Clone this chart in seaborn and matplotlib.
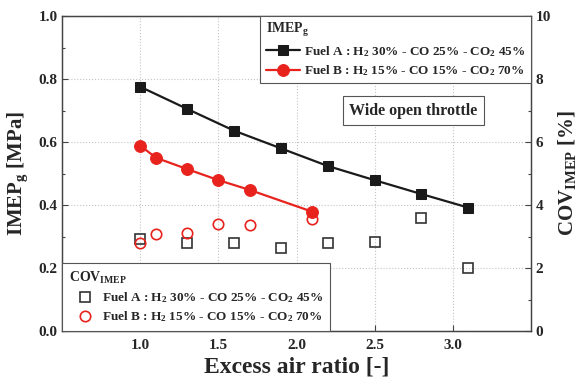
import matplotlib
matplotlib.use("Agg")
import matplotlib.pyplot as plt
import seaborn as sns
import pandas as pd
from matplotlib.ticker import MultipleLocator

# ---- data ----
lam_a = [1.0, 1.3, 1.6, 1.9, 2.2, 2.5, 2.8, 3.1]
imep_a = [0.775, 0.705, 0.636, 0.580, 0.524, 0.479, 0.435, 0.392]
cov_a = [2.91, 2.80, 2.80, 2.64, 2.80, 2.83, 3.59, 2.01]

lam_b = [1.0, 1.1, 1.3, 1.5, 1.7, 2.1]
imep_b = [0.588, 0.550, 0.514, 0.479, 0.448, 0.379]
cov_b = [2.80, 3.07, 3.12, 3.39, 3.37, 3.57]

label_a = "Fuel A : H$_{2}$ 30% - CO 25% - CO$_{2}$ 45%"
label_b = "Fuel B : H$_{2}$ 15% - CO 15% - CO$_{2}$ 70%"

sns.set_style("ticks")
plt.rcParams["font.family"] = ["Liberation Serif", "DejaVu Serif"]
plt.rcParams["font.weight"] = "bold"
plt.rcParams["mathtext.fontset"] = "custom"
plt.rcParams["mathtext.rm"] = "Liberation Serif:bold"
plt.rcParams["mathtext.it"] = "Liberation Serif:bold"
plt.rcParams["mathtext.bf"] = "Liberation Serif:bold"

df_a = pd.DataFrame({"lam": lam_a, "imep": imep_a, "cov": cov_a})
df_b = pd.DataFrame({"lam": lam_b, "imep": imep_b, "cov": cov_b})

fig = plt.figure(figsize=(5.78, 3.81), dpi=100)
ax = fig.add_axes([0.108, 0.131, 0.810, 0.827])
ax2 = ax.twinx()

sns.lineplot(data=df_a, x="lam", y="imep", ax=ax, color="#1a1a1a", marker="s",
             markersize=7.5, markeredgecolor="#1a1a1a", linewidth=1.6, label=label_a)
sns.lineplot(data=df_b, x="lam", y="imep", ax=ax, color="#e8231d", marker="o",
             markersize=8.5, markeredgecolor="#e8231d", linewidth=1.6, label=label_b)

sns.lineplot(data=df_a, x="lam", y="cov", ax=ax2, color="#333333", marker="s",
             markersize=7, linestyle="none", markerfacecolor="none",
             markeredgecolor="#333333", markeredgewidth=1.2, label=label_a)
sns.lineplot(data=df_b, x="lam", y="cov", ax=ax2, color="#e8231d", marker="o",
             markersize=7.5, linestyle="none", markerfacecolor="none",
             markeredgecolor="#e8231d", markeredgewidth=1.2, label=label_b)

ax.set_xlim(0.5, 3.5)
ax.set_ylim(0.0, 1.0)
ax2.set_ylim(0, 10)
ax.yaxis.set_minor_locator(MultipleLocator(0.1))
ax2.yaxis.set_minor_locator(MultipleLocator(1))
ax.set_xticks([1.0, 1.5, 2.0, 2.5, 3.0])
ax.set_xticklabels(["1.0", "1.5", "2.0", "2.5", "3.0"])
ax.set_yticks([0.0, 0.2, 0.4, 0.6, 0.8, 1.0])
ax.set_yticklabels(["0.0", "0.2", "0.4", "0.6", "0.8", "1.0"])
ax2.set_yticks([0, 2, 4, 6, 8, 10])
ax2.set_yticklabels(["0", "2", "4", "6", "8", "10"])

for a in (ax, ax2):
    a.tick_params(axis="both", which="major", direction="in", length=4,
                  labelsize=11, width=0.8, color="#444444")
    a.tick_params(axis="both", which="minor", direction="in", length=2.5,
                  width=0.8, color="#444444")
    for s in a.spines.values():
        s.set_color("#444444")
        s.set_linewidth(0.9)
ax.tick_params(axis="x", which="major", pad=6)

ax.grid(True, which="major", linestyle=":", color="#c4c4c4", linewidth=0.8)
ax.set_axisbelow(True)

ax.set_xlabel("Excess air ratio [-]", fontsize=17, fontweight="bold", labelpad=3)
ax.set_ylabel("IMEP$_{\\mathrm{g}}$ [MPa]", fontsize=15, fontweight="bold", labelpad=6)
ax2.set_ylabel("COV$_{\\mathrm{IMEP}}$ [%]", fontsize=15, fontweight="bold", labelpad=4)

h1, l1 = ax.get_legend_handles_labels()
if ax.get_legend():
    ax.get_legend().remove()
h2, l2 = ax2.get_legend_handles_labels()
if ax2.get_legend():
    ax2.get_legend().remove()

leg1 = ax2.legend(h1, l1, title="IMEP$_{\\mathrm{g}}$", loc="upper right",
                  fontsize=9.5, title_fontsize=10, frameon=True, fancybox=False,
                  edgecolor="#555555", framealpha=1, borderaxespad=0,
                  handlelength=2.6, handletextpad=0.3, labelspacing=0.35,
                  borderpad=0.4)
leg1._legend_box.align = "left"
leg1.get_frame().set_linewidth(0.8)
ax2.add_artist(leg1)

leg2 = ax2.legend(h2, l2, title="COV$_{\\mathrm{IMEP}}$", loc="lower left",
                  fontsize=9.5, title_fontsize=10, frameon=True, fancybox=False,
                  edgecolor="#555555", framealpha=1, borderaxespad=0,
                  handlelength=2.4, handletextpad=0.1, labelspacing=0.35,
                  borderpad=0.5)
leg2._legend_box.align = "left"
leg2.get_frame().set_linewidth(0.8)

ax.text(0.75, 0.70, "Wide open throttle", transform=ax.transAxes,
        ha="center", va="center", fontsize=11.5, fontweight="bold",
        bbox=dict(boxstyle="square,pad=0.4", fc="white", ec="#555555", lw=0.8))

fig.savefig("out.png", dpi=100)
